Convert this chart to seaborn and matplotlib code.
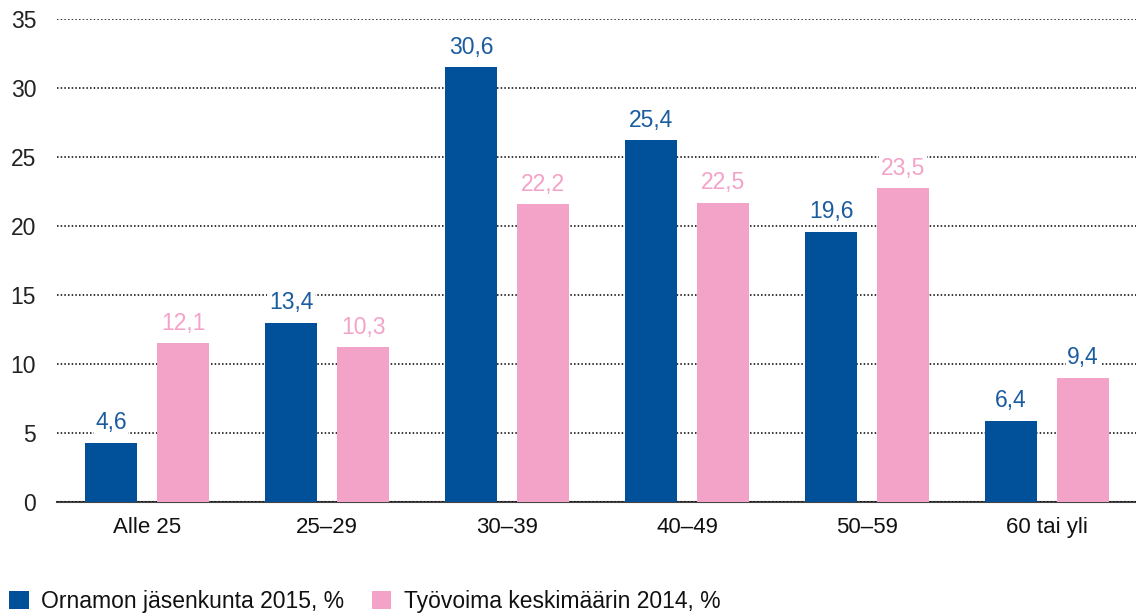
import matplotlib
matplotlib.use("Agg")
import matplotlib.pyplot as plt
import pandas as pd
import seaborn as sns

# age groups and the two series
groups = ["Alle 25", "25–29", "30–39", "40–49", "50–59", "60 tai yli"]
series = ["Ornamon jäsenkunta 2015, %", "Työvoima keskimäärin 2014, %"]

# bar heights as drawn in the picture
ornamo_bar = [4.3, 13.0, 31.5, 26.2, 19.6, 5.9]
tyovoima_bar = [11.5, 11.2, 21.6, 21.7, 22.75, 9.0]

# value labels printed above the bars
ornamo_lbl = [4.6, 13.4, 30.6, 25.4, 19.6, 6.4]
tyovoima_lbl = [12.1, 10.3, 22.2, 22.5, 23.5, 9.4]

yticks = [0, 5, 10, 15, 20, 25, 30, 35]

blue = "#00509A"
pink = "#F4A3C8"
blue_txt = "#1B5C9F"

df = pd.DataFrame({
    "ryhma": groups * 2,
    "sarja": [series[0]] * len(groups) + [series[1]] * len(groups),
    "arvo": ornamo_bar + tyovoima_bar,
})

sns.set_theme(style="white")
plt.rcParams["font.family"] = ["Liberation Sans", "DejaVu Sans"]

fig = plt.figure(figsize=(11.36, 6.15), dpi=100)
ax = fig.add_axes([0.0502, 0.1837, 0.9507, 0.7854])

sns.barplot(data=df, x="ryhma", y="arvo", hue="sarja", order=groups,
            hue_order=series, palette=[blue, pink], saturation=1,
            width=0.8, gap=0.27, linewidth=0, errorbar=None, ax=ax)

ax.set_xlim(-0.5, 5.5)
ax.set_ylim(0, 35)
ax.set_yticks(yticks)
ax.set_xlabel("")
ax.set_ylabel("")

ax.set_axisbelow(True)
ax.yaxis.grid(True, color="black", linestyle=(0, (1, 1.4)), linewidth=1.1)
ax.xaxis.grid(False)

for s in ["top", "right", "left"]:
    ax.spines[s].set_visible(False)
ax.spines["bottom"].set_color("#444444")
ax.spines["bottom"].set_linewidth(1.5)
ax.spines["bottom"].set_zorder(0.5)

ax.tick_params(axis="y", length=0, pad=15, labelsize=16.5, labelcolor="#222222")
ax.tick_params(axis="x", length=0, pad=11, labelsize=16, labelcolor="#111111")

fmt = lambda v: f"{v:.1f}".replace(".", ",")
bb = dict(facecolor="white", edgecolor="none", pad=1)
ax.bar_label(ax.containers[0], labels=[fmt(v) for v in ornamo_lbl],
             padding=6, fontsize=16.5, color=blue_txt, bbox=bb)
txts = ax.bar_label(ax.containers[1], labels=[fmt(v) for v in tyovoima_lbl],
                    padding=6, fontsize=16.5, color=pink, bbox=bb)
txts[-1].set_color(blue_txt)

sns.move_legend(ax, "center left", bbox_to_anchor=(0.008, 0.022),
                bbox_transform=fig.transFigure, ncol=2, title=None,
                frameon=False, fontsize=16.5, handlelength=0.85,
                handleheight=0.85, handletextpad=0.55, columnspacing=1.2,
                borderpad=0, borderaxespad=0)
for t in ax.get_legend().get_texts():
    t.set_color("#111111")

fig.savefig("out.png", dpi=100)
